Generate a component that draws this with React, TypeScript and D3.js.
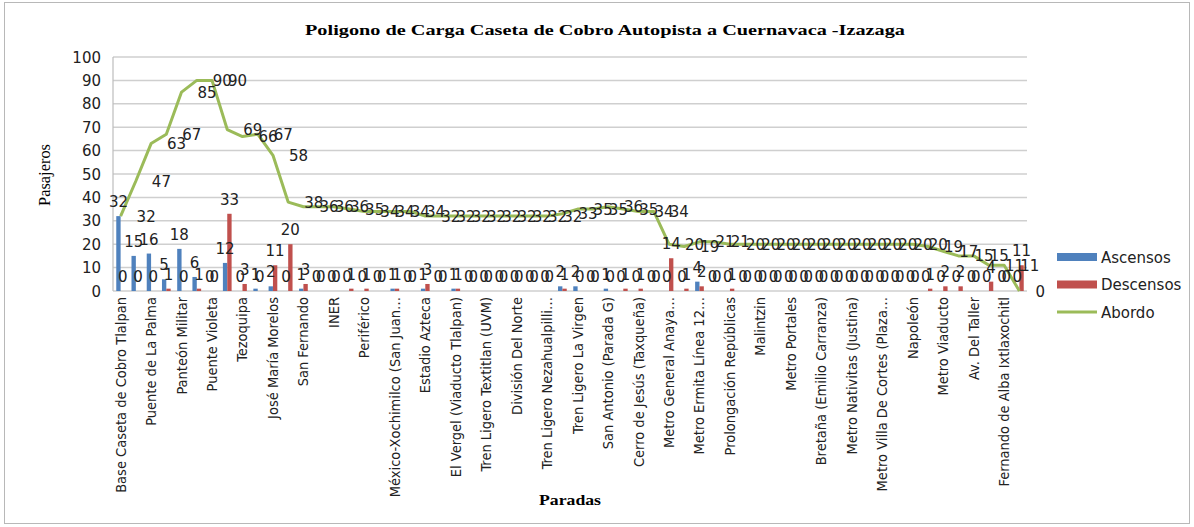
import React from "react";
import * as d3 from "d3";

// 60 stops; only every other name is printed on the axis of the reference
const stopLabels: string[] = [
  "Base Caseta de Cobro Tlalpan", "",
  "Puente de La Palma", "",
  "Panteón Militar", "",
  "Puente Violeta", "",
  "Tezoquipa", "",
  "José María Morelos", "",
  "San Fernando", "",
  "INER", "",
  "Periférico", "",
  "México-Xochimilco (San Juan…", "",
  "Estadio Azteca", "",
  "El Vergel (Viaducto Tlalpan)", "",
  "Tren Ligero Textitlan (UVM)", "",
  "División Del Norte", "",
  "Tren Ligero Nezahualpilli…", "",
  "Tren Ligero La Virgen", "",
  "San Antonio (Parada G)", "",
  "Cerro de Jesús (Taxqueña)", "",
  "Metro General Anaya…", "",
  "Metro Ermita Línea 12…", "",
  "Prolongación Repúblicas", "",
  "Malintzin", "",
  "Metro Portales", "",
  "Bretaña (Emilio Carranza)", "",
  "Metro Nativitas (Justina)", "",
  "Metro Villa De Cortes (Plaza…", "",
  "Napoleón", "",
  "Metro Viaducto", "",
  "Av. Del Taller", "",
  "Fernando de Alba Ixtlaxochitl", "",
];

const ascensos: number[] = [
  32, 15, 16, 5, 18, 6, 0, 12, 0, 1,
  2, 0, 1, 0, 0, 0, 0, 0, 1, 0,
  1, 0, 1, 0, 0, 0, 0, 0, 0, 2,
  2, 0, 1, 0, 0, 0, 0, 0, 4, 0,
  0, 0, 0, 0, 0, 0, 0, 0, 0, 0,
  0, 0, 0, 0, 0, 0, 0, 0, 0, 0,
];

const descensos: number[] = [
  0, 0, 0, 1, 0, 1, 0, 33, 3, 0,
  11, 20, 3, 0, 0, 1, 1, 0, 1, 0,
  3, 0, 1, 0, 0, 0, 0, 0, 0, 1,
  0, 0, 0, 1, 1, 0, 14, 1, 2, 0,
  1, 0, 0, 0, 0, 0, 0, 0, 0, 0,
  0, 0, 0, 1, 2, 2, 0, 4, 0, 11,
];

const abordo: number[] = [
  32, 47, 63, 67, 85, 90, 90, 69, 66, 67,
  58, 38, 36, 36, 36, 35, 34, 34, 34, 34,
  32, 32, 32, 32, 32, 32, 32, 32, 32, 33,
  35, 35, 36, 35, 34, 34, 20, 19, 21, 21,
  20, 20, 20, 20, 20, 20, 20, 20, 20, 20,
  20, 20, 20, 19, 17, 15, 15, 11, 11, 0,
];

const yTicks: number[] = [0, 10, 20, 30, 40, 50, 60, 70, 80, 90, 100];

const seriesNames = ["Ascensos", "Descensos", "Abordo"];
const colors = ["#4F81BD", "#C0504D", "#9BBB59"];

const W = 1194;
const H = 527;
const plotL = 113;
const plotR = 1027;
const plotT = 57;
const plotB = 291;

const numFont = "'DejaVu Sans', sans-serif";
const catFont = "'DejaVu Sans Condensed', 'DejaVu Sans', sans-serif";
const serif = "'Liberation Serif', 'Times New Roman', serif";

export default function App() {
  const idx = stopLabels.map((_, i) => i);
  const x = d3.scaleBand<number>().domain(idx).range([plotL, plotR]).paddingInner(0).paddingOuter(0);
  const y = d3.scaleLinear().domain([0, 100]).range([plotB, plotT]);
  const cx = (i: number) => (x(i) as number) + x.bandwidth() / 2;
  const bw = x.bandwidth() / 3.5;

  const line = d3
    .line<number>()
    .x((_, i) => cx(i))
    .y((d) => y(d))
    .curve(d3.curveLinear);

  return (
    <svg
      width={W}
      height={H}
      style={{ position: "absolute", left: 0, top: 0, background: "#fff" }}
    >
      <rect x={4.5} y={2.5} width={1185} height={521} fill="#fff" stroke="#b8b8b8" />

      {/* title */}
      <text
        x={605}
        y={35}
        textAnchor="middle"
        fontFamily={serif}
        fontWeight="bold"
        fontSize={15}
        textLength={600}
        lengthAdjust="spacingAndGlyphs"
        fill="#000"
      >
        Poligono de Carga Caseta de Cobro Autopista a Cuernavaca -Izazaga
      </text>

      {/* gridlines */}
      {yTicks.map((t) => (
        <line key={"g" + t} x1={plotL} x2={plotR} y1={y(t)} y2={y(t)} stroke="#cfcfcf" strokeWidth={1.5} />
      ))}
      <line x1={plotL} x2={plotL} y1={plotT} y2={plotB} stroke="#bdbdbd" strokeWidth={1.2} />

      {/* y tick labels */}
      {yTicks.map((t) => (
        <text key={"t" + t} x={101} y={y(t) + 5.5} textAnchor="end" fontFamily={numFont} fontSize={15} fill="#222">
          {t}
        </text>
      ))}

      {/* y axis title */}
      <text
        transform={`translate(50,${175}) rotate(-90)`}
        textAnchor="middle"
        fontFamily={serif}
        fontSize={16}
        textLength={62}
        lengthAdjust="spacingAndGlyphs"
        fill="#000"
      >
        Pasajeros
      </text>

      {/* bars */}
      {ascensos.map((v, i) => (
        <rect key={"a" + i} x={cx(i) - bw} y={y(v)} width={bw} height={plotB - y(v)} fill={colors[0]} />
      ))}
      {descensos.map((v, i) => (
        <rect key={"d" + i} x={cx(i)} y={y(v)} width={bw} height={plotB - y(v)} fill={colors[1]} />
      ))}

      {/* line */}
      <path d={line(abordo) || ""} fill="none" stroke={colors[2]} strokeWidth={3} strokeLinejoin="round" />

      {/* bar labels */}
      {ascensos.map((v, i) => (
        <text key={"al" + i} x={cx(i) - bw / 2} y={y(v) - 9} textAnchor="middle" fontFamily={numFont} fontSize={15} fill="#222">
          {v}
        </text>
      ))}
      {descensos.map((v, i) => (
        <text key={"dl" + i} x={cx(i) + bw / 2} y={y(v) - 9} textAnchor="middle" fontFamily={numFont} fontSize={15} fill="#222">
          {v}
        </text>
      ))}
      {/* line labels */}
      {abordo.map((v, i) => (
        <text key={"bl" + i} x={cx(i) + 16} y={y(v) + 5.5} textAnchor="start" fontFamily={numFont} fontSize={15} fill="#222">
          {v}
        </text>
      ))}

      {/* x category labels */}
      {stopLabels.map((s, i) =>
        s ? (
          <text
            key={"c" + i}
            transform={`translate(${cx(i) + 5},${plotB + 6}) rotate(-90)`}
            textAnchor="end"
            fontFamily={catFont}
            fontSize={14.5}
            fill="#222"
          >
            {s}
          </text>
        ) : null
      )}

      {/* x axis title */}
      <text
        x={570}
        y={505}
        textAnchor="middle"
        fontFamily={serif}
        fontWeight="bold"
        fontSize={15}
        textLength={62}
        lengthAdjust="spacingAndGlyphs"
        fill="#000"
      >
        Paradas
      </text>

      {/* legend */}
      {seriesNames.map((n, k) => {
        const ly = 257 + k * 27.5;
        return (
          <g key={"lg" + k}>
            {k < 2 ? (
              <rect x={1057} y={ly - 4} width={40} height={8} fill={colors[k]} />
            ) : (
              <line x1={1057} x2={1097} y1={ly} y2={ly} stroke={colors[k]} strokeWidth={3} />
            )}
            <text x={1101} y={ly + 5.5} fontFamily={numFont} fontSize={15} fill="#222">
              {n}
            </text>
          </g>
        );
      })}
    </svg>
  );
}
